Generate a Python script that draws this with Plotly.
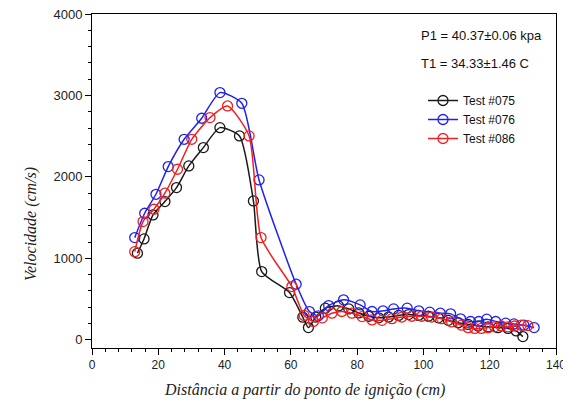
import plotly.graph_objects as go

# Test #075 (black)
x_075 = [13.7, 15.7, 18.4, 22.0, 25.5, 29.2, 33.6, 38.6, 44.5, 48.7, 51.2, 59.6, 63.6, 65.3, 67.5,
         70.4, 74.4, 77.5, 80.5, 83.5, 86.5, 89.5, 92.5, 95.5, 98.5, 101.5, 104.5, 107.5, 110.5,
         113.5, 116.5, 119.5, 122.5, 125.5, 128.0, 130.0]
y_075 = [1064, 1239, 1534, 1697, 1869, 2135, 2360, 2605, 2503, 1705, 838, 580, 278, 151, 280,
         389, 417, 380, 330, 290, 270, 280, 300, 310, 300, 290, 270, 240, 210,
         190, 170, 160, 150, 140, 110, 40]

# Test #076 (blue)
x_076 = [12.9, 15.9, 19.3, 23.0, 27.8, 33.1, 38.6, 45.2, 50.4, 61.6, 65.6, 68.3, 71.4, 75.9,
         80.9, 84.5, 87.8, 91.0, 95.1, 98.6, 101.9, 105.1, 108.2, 111.2, 114.2, 116.7, 119.1,
         121.8, 124.8, 127.3, 130.3, 133.4]
y_076 = [1255, 1554, 1787, 2127, 2462, 2720, 3035, 2904, 1963, 683, 347, 295, 421, 491,
         429, 348, 356, 380, 389, 356, 340, 327, 319, 258, 225, 225, 254,
         225, 205, 196, 180, 151]

# Test #086 (red)
x_086 = [12.9, 15.4, 18.7, 22.0, 25.8, 30.1, 35.6, 40.9, 47.4, 51.0, 60.3, 64.0, 66.8, 69.5,
         72.4, 75.4, 78.4, 81.5, 84.5, 87.5, 90.5, 93.5, 96.5, 99.5, 102.5, 105.5, 108.5,
         111.5, 113.5, 115.5, 117.5, 119.5, 121.5, 123.5, 125.5, 127.5, 129.5, 131.5]
y_086 = [1083, 1452, 1603, 1800, 2094, 2462, 2728, 2871, 2503, 1255, 654, 300, 225, 270,
         327, 348, 327, 286, 245, 240, 260, 280, 290, 290, 280, 260, 220,
         180, 150, 140, 140, 150, 160, 170, 160, 170, 180, 175]

series = [
    ("Test #075", x_075, y_075, "#1a1a1a"),
    ("Test #076", x_076, y_076, "#2020f0"),
    ("Test #086", x_086, y_086, "#f02020"),
]

x_ticks = [0, 20, 40, 60, 80, 100, 120, 140]
y_ticks = [0, 1000, 2000, 3000, 4000]

x_title = "Distância a partir do ponto de ignição (cm)"
y_title = "Velocidade (cm/s)"
note_p = "P1 = 40.37±0.06 kpa"
note_t = "T1 = 34.33±1.46 C"

fig = go.Figure()
for name, xs, ys, col in series:
    fig.add_trace(go.Scatter(
        x=xs, y=ys, name=name, mode="lines+markers",
        line=dict(color=col, width=1.5, shape="spline", smoothing=0.6),
        marker=dict(symbol="circle-open", size=10, color=col, line=dict(width=1.3, color=col)),
    ))

fig.update_xaxes(
    range=[0, 140], tickvals=x_ticks, ticks="outside", ticklen=6, tickwidth=1, tickcolor="black",
    showline=True, linecolor="black", linewidth=1, mirror=True, showgrid=False, zeroline=False,
    minor=dict(dtick=4, ticks="outside", ticklen=3, tickcolor="black"),
    tickfont=dict(family="Liberation Sans, Arial", size=12, color="#222"),
    automargin=False, ticklabeloverflow="allow",
)
fig.update_yaxes(
    range=[-100, 4000], tickvals=y_ticks, ticks="outside", ticklen=6, tickwidth=1, tickcolor="black",
    showline=True, linecolor="black", linewidth=1, mirror=True, showgrid=False, zeroline=False,
    minor=dict(dtick=200, ticks="outside", ticklen=3, tickcolor="black"),
    tickfont=dict(family="Liberation Sans, Arial", size=13, color="#222"),
    automargin=False, ticklabeloverflow="allow",
)

PX0, PW, PY0, PH = 92, 464, 14, 334  # plot area in window pixels


def px(xw):
    return (xw - PX0) / PW


def py(yw):
    return 1 - (yw - PY0) / PH


title_font = dict(family="Liberation Serif, Times New Roman", size=16, color="#222")
fig.add_annotation(x=px(304), y=py(390), xref="paper", yref="paper", text=f"<i>{x_title}</i>",
                   showarrow=False, xanchor="center", yanchor="middle", font=title_font)
fig.add_annotation(x=px(31), y=py(224), xref="paper", yref="paper", text=f"<i>{y_title}</i>",
                   showarrow=False, xanchor="center", yanchor="middle", textangle=-90, font=title_font)

note_font = dict(family="Liberation Sans, Arial", size=13, color="#111")
fig.add_annotation(x=px(419), y=py(35), xref="paper", yref="paper", text=note_p, showarrow=False,
                   xanchor="left", yanchor="middle", font=note_font)
fig.add_annotation(x=px(419), y=py(63), xref="paper", yref="paper", text=note_t, showarrow=False,
                   xanchor="left", yanchor="middle", font=note_font)

# page body has an 8px default margin, so size/margins are reduced by 8 on left/top
fig.update_layout(
    width=563, height=398,
    margin=dict(l=84, r=15, t=6, b=58),
    paper_bgcolor="white", plot_bgcolor="white",
    showlegend=True,
    legend=dict(x=px(423), y=py(86), xanchor="left", yanchor="top",
                bgcolor="rgba(0,0,0,0)", font=dict(family="Liberation Sans, Arial", size=12, color="#111"),
                tracegroupgap=0, itemwidth=30),
)

fig.write_html("out.html")
